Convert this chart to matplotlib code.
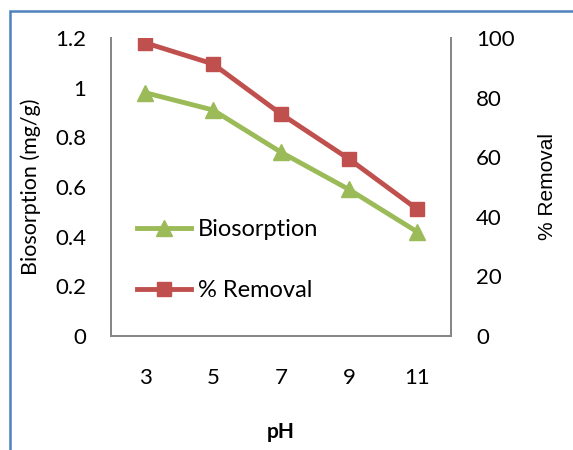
import matplotlib
matplotlib.use("Agg")
import matplotlib.pyplot as plt
from matplotlib.patches import Rectangle

# valores
ph = ["3", "5", "7", "9", "11"]
biosorcao = [0.98, 0.91, 0.74, 0.59, 0.42]
remocao = [98.4, 91.3, 74.5, 59.4, 42.6]

verde = "#9BBB59"
vermelho = "#C0504D"
cinza = "#868686"

plt.rcParams["font.family"] = ["Lato", "DejaVu Sans"]

fig = plt.figure(figsize=(5.73, 4.5), dpi=100)
ax = fig.add_axes([111/573, 1-336/450, 340/573, 298/450])
ax2 = ax.twinx()

x = list(range(len(ph)))
l1, = ax.plot(x, biosorcao, color=verde, lw=3.5, marker="^", markersize=12, label="Biosorption")
l2, = ax2.plot(x, remocao, color=vermelho, lw=3.5, marker="s", markersize=10, label="% Removal")

ax.set_xlim(-0.5, 4.5)
ax.set_ylim(0, 1.2)
ax2.set_ylim(0, 100)
ax.set_yticks([0, 0.2, 0.4, 0.6, 0.8, 1.0, 1.2])
ax.set_yticklabels(["0", "0.2", "0.4", "0.6", "0.8", "1", "1.2"])
ax2.set_yticks([0, 20, 40, 60, 80, 100])
ax.set_xticks(x)
ax.set_xticklabels(ph)

for a in (ax, ax2):
    a.spines["top"].set_visible(False)
    for s in ("left", "right", "bottom"):
        a.spines[s].set_color(cinza)
        a.spines[s].set_linewidth(1.3)
ax.tick_params(axis="y", length=0, pad=18, labelsize=16)
ax.tick_params(axis="x", length=0, pad=23, labelsize=16)
ax2.tick_params(axis="y", length=0, pad=18, labelsize=16)

ax.set_ylabel("Biosorption (mg/g)", fontsize=15.5, va="center", ha="center")
ax.yaxis.set_label_coords(-0.235, 0.5)
ax2.set_ylabel("% Removal", fontsize=15, family=["Liberation Sans", "DejaVu Sans"],
               rotation=90, va="center", ha="center")
ax2.yaxis.set_label_coords(1.285, 0.5)
ax.set_xlabel("pH", fontsize=15, fontweight="bold", va="center")
ax.xaxis.set_label_coords(0.5, -0.322)

ax.legend([l1, l2], ["Biosorption", "% Removal"], loc="upper left", bbox_to_anchor=(0.076, 0.393),
          frameon=False, fontsize=17, handlelength=2.3, handletextpad=0.3,
          labelspacing=1.7, borderpad=0, borderaxespad=0)

# borda azul do grafico
fig.patches.append(Rectangle((10/573, -0.1), 1.2, 1.1 - 11/450, transform=fig.transFigure,
                             fill=False, edgecolor="#4F81BD", lw=1.8))

fig.savefig("out.png", dpi=100)
